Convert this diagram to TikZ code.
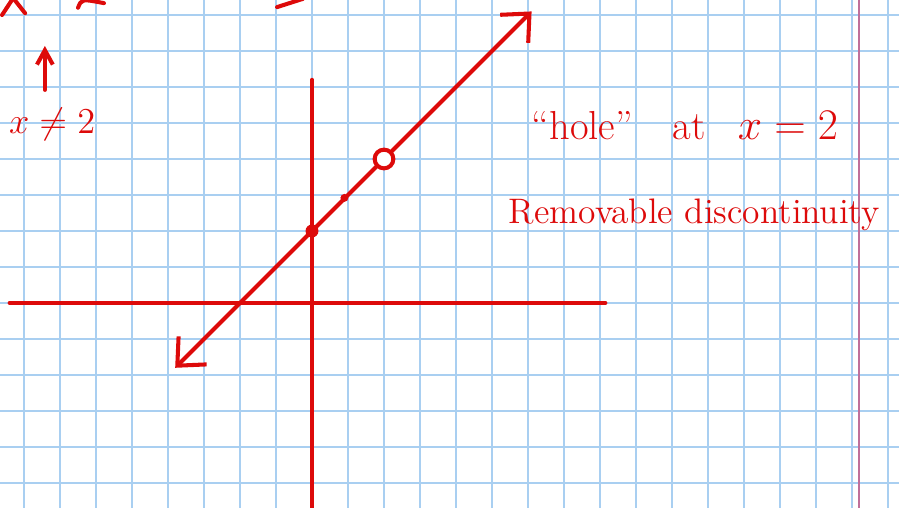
\documentclass[tikz,border=0pt]{standalone}
\usepackage{xcolor}
\usepackage{tikz}
\usetikzlibrary{arrows.meta, positioning}
\definecolor{pen}{HTML}{DD0A0A}
\definecolor{cgrid}{HTML}{A9CFF1}
\definecolor{cmargin}{HTML}{C0709A}

\begin{document}
\begin{tikzpicture}[x=0.5cm, y=0.5cm, font=\fontsize{14}{17}\selectfont,
      ink/.style={draw=pen, line width=1.6pt, line cap=round, line join=round},
      txt/.style={text=pen, inner sep=0pt},
      dot/.style={circle, fill=pen, inner sep=0pt}]
    \useasboundingbox (-8.667,-5.694) rectangle (16.306,8.417);
    \clip (-8.667,-5.694) rectangle (16.306,8.417);
    \fill[white] (-8.667,-5.694) rectangle (16.306,8.417);
    % graph paper
    \foreach \i in {-8,...,16}
      \draw[cgrid, line width=0.8pt] (\i,-5.694) -- (\i,8.417);
    \foreach \j in {-5,...,8}
      \draw[cgrid, line width=0.8pt] (-8.667,\j) -- (16.306,\j);
    \draw[cmargin, line width=0.6pt] (15.2,-5.694) -- (15.2,8.417);
    % axes
    \coordinate (xl) at (-8.4,0);
    \coordinate (xr) at (8.15,0);
    \coordinate (yt) at (0,6.2);
    \coordinate (yb) at (0,-5.8);
    \draw[ink] (xl) -- (xr);
    \draw[ink] (yt) -- (yb);
    % the line
    \coordinate (lo) at (-3.8,-1.8);
    \coordinate (hi) at (6.1,8.1);
    \draw[ink, {Straight Barb[length=3mm, width=5.5mm]}-{Straight Barb[length=3mm, width=5.5mm]}] (lo) -- (hi);
    \node[dot, minimum size=1.8mm] (yint) at (0,2) {};
    \node[dot, minimum size=1.1mm] (pt) at (0.9,2.92) {};
    \node[circle, draw=pen, fill=white, line width=1.6pt, minimum size=2.6mm, inner sep=0pt] (hole) at (2,4) {};
    % notes
    \node[txt] (ne) at (-7.22,4.97) {$x\neq 2$};
    \coordinate (ua) at (-7.42,5.92);
    \coordinate (ub) at (-7.42,7.14);
    \draw[ink, -{Straight Barb[length=2mm, width=2.2mm]}] (ua) -- (ub);
    \node[txt, font=\fontsize{16}{19}\selectfont] (hl) at (10.36,4.94) {``hole''\hspace{0.55cm}at\hspace{0.45cm}$x = 2$};
    \node[txt, on grid, below=1.25cm of hl, xshift=1.3mm] (rd) {Removable discontinuity};
    % cut-off writing at the top edge
    \draw[ink] (-8.61,8.0) -- (-8.3,8.47) -- (-7.97,8.05);
    \draw[ink] (-6.5,8.2) .. controls (-6.4,8.45) .. (-5.78,8.33);
    \draw[ink] (-0.97,8.22) -- (-0.25,8.45);
  \end{tikzpicture}
\end{document}
